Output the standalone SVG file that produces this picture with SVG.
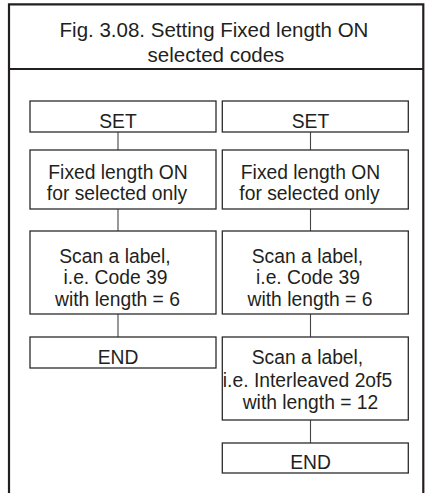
<svg xmlns="http://www.w3.org/2000/svg" width="426" height="493" viewBox="0 0 426 493">
<style>
.frame{fill:none;stroke:#231f20;stroke-width:2.2}
.box{fill:#fff;stroke:#2b2b2b;stroke-width:1.3}
.conn{stroke:#444;stroke-width:1.1;fill:none}
text{font-family:"Liberation Sans",Arial,Helvetica,sans-serif;fill:#231f20;text-anchor:middle}
.title{font-size:20.5px}
.t{font-size:19.3px}
</style>
<rect width="426" height="493" fill="#fff"/>
<g id="frame">
<path class="frame" d="M9,494 V4.3 H423.3 V494"/>
<line class="frame" x1="9" y1="69" x2="423.3" y2="69"/>
<text class="title" x="214" y="37">Fig. 3.08. Setting Fixed length ON</text>
<text class="title" x="216" y="62">selected codes</text>
</g>
<g id="connectors">
<line class="conn" x1="118" y1="132" x2="118" y2="150"/>
<line class="conn" x1="118" y1="209" x2="118" y2="231"/>
<line class="conn" x1="118" y1="314" x2="118" y2="337"/>
<line class="conn" x1="310.5" y1="132" x2="310.5" y2="150"/>
<line class="conn" x1="310.5" y1="209" x2="310.5" y2="231"/>
<line class="conn" x1="310.5" y1="314" x2="310.5" y2="337"/>
<line class="conn" x1="310.5" y1="420" x2="310.5" y2="443"/>
</g>
<g id="l-set">
<rect class="box" x="30" y="101" width="186" height="31"/>
<text class="t" x="118" y="127.5">SET</text>
</g>
<g id="l-fixed">
<rect class="box" x="30" y="150" width="186" height="59"/>
<text class="t" x="118" y="178.5">Fixed length ON</text>
<text class="t" x="117" y="199.5">for selected only</text>
</g>
<g id="l-scan">
<rect class="box" x="30" y="231" width="186" height="83"/>
<text class="t" x="115" y="262.5">Scan a label,</text>
<text class="t" x="115.5" y="284">i.e. Code 39</text>
<text class="t" x="117.5" y="305.5">with length = 6</text>
</g>
<g id="l-end">
<rect class="box" x="30" y="337" width="186" height="31"/>
<text class="t" x="118" y="364">END</text>
</g>
<g id="r-set">
<rect class="box" x="222.3" y="101" width="186" height="31"/>
<text class="t" x="310.5" y="127.5">SET</text>
</g>
<g id="r-fixed">
<rect class="box" x="222.3" y="150" width="186" height="59"/>
<text class="t" x="310.5" y="178.5">Fixed length ON</text>
<text class="t" x="309.5" y="199.5">for selected only</text>
</g>
<g id="r-scan1">
<rect class="box" x="222.3" y="231" width="186" height="83"/>
<text class="t" x="307.5" y="262.5">Scan a label,</text>
<text class="t" x="308" y="284">i.e. Code 39</text>
<text class="t" x="310" y="305.5">with length = 6</text>
</g>
<g id="r-scan2">
<rect class="box" x="222.3" y="337" width="186" height="83"/>
<text class="t" x="307.5" y="364">Scan a label,</text>
<text class="t" x="307.5" y="386.5">i.e. Interleaved 2of5</text>
<text class="t" x="310.5" y="409">with length = 12</text>
</g>
<g id="r-end">
<rect class="box" x="222.3" y="443" width="186" height="30"/>
<text class="t" x="310.5" y="469">END</text>
</g>
</svg>
